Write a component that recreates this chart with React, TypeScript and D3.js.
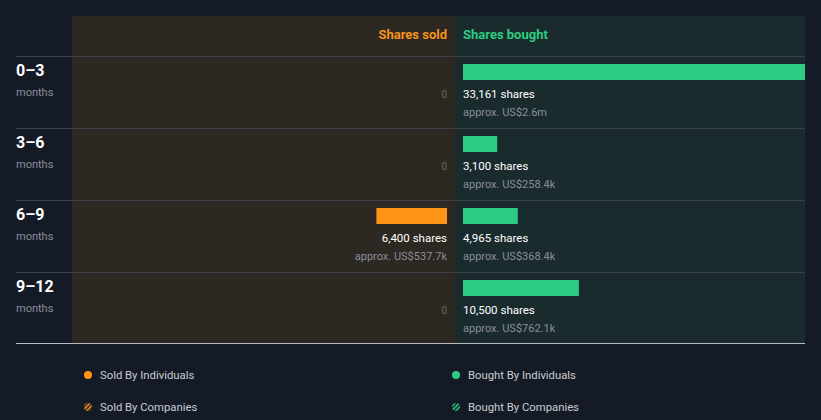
import React from 'react';
import * as d3 from 'd3';

// Insider trading by period
const periods = ['0–3', '3–6', '6–9', '9–12'];
const soldShares = [0, 0, 6400, 0];
const soldValue = ['', '', 'US$537.7k', ''];
const boughtShares = [33161, 3100, 4965, 10500];
const boughtValue = ['US$2.6m', 'US$258.4k', 'US$368.4k', 'US$762.1k'];
const legendItems = [
  { label: 'Sold By Individuals', color: '#ff9419', hatched: false },
  { label: 'Bought By Individuals', color: '#2ecc82', hatched: false },
  { label: 'Sold By Companies', color: '#ff9419', hatched: true },
  { label: 'Bought By Companies', color: '#2ecc82', hatched: true },
];

const W = 821;
const H = 420;
const ORANGE = '#ff9419';
const GREEN = '#2ecc82';

export default function App() {
  const left = 16;
  const right = 805;
  const panelL = 72;
  const mid = 455;
  const top = 16;
  const headerH = 40;
  const rowH = 72;

  const y = d3
    .scaleBand<string>()
    .domain(periods)
    .range([top + headerH, top + headerH + rowH * periods.length]);

  // bar length; clamped so the largest bar hits the panel edge
  const len = d3.scaleLinear().domain([0, 31000]).range([0, right - (mid + 8)]).clamp(true);
  const fmt = d3.format(',');

  const bottom = y.range()[1] - 1;

  return (
    <svg
      width={W}
      height={H}
      style={{ position: 'absolute', left: 0, top: 0, background: '#151b26', fontFamily: 'Roboto, sans-serif' }}
    >
      <defs>
        <pattern id="hatchO" width="3" height="3" patternUnits="userSpaceOnUse" patternTransform="rotate(45)">
          <rect width="1.5" height="3" fill={ORANGE} />
        </pattern>
        <pattern id="hatchG" width="3" height="3" patternUnits="userSpaceOnUse" patternTransform="rotate(45)">
          <rect width="1.5" height="3" fill={GREEN} />
        </pattern>
      </defs>
      <rect x={0} y={0} width={W} height={H} fill="#151b26" />
      <rect x={panelL} y={top} width={mid - panelL} height={bottom - top} fill="#2d2822" />
      <rect x={mid} y={top} width={right - mid} height={bottom - top} fill="#1a2b2e" />

      <text x={mid - 8} y={top + 23} textAnchor="end" fill="#f7931e" fontSize={13} fontWeight={700}>
        Shares sold
      </text>
      <text x={mid + 8} y={top + 23} fill={GREEN} fontSize={13} fontWeight={700}>
        Shares bought
      </text>

      {periods.map((p, i) => {
        const y0 = y(p)!;
        const s = soldShares[i];
        const b = boughtShares[i];
        return (
          <g key={p}>
            <line x1={left} x2={right} y1={y0 + 0.5} y2={y0 + 0.5} stroke="#3d4047" strokeWidth={1} />
            <text x={left} y={y0 + 20} fill="#fff" fontSize={16} fontWeight={700}>
              {p}
            </text>
            <text x={left} y={y0 + 40} fill="#8a8e96" fontSize={11}>
              months
            </text>
            {s > 0 ? (
              <g>
                <rect x={mid - 8 - len(s)} y={y0 + 8} width={len(s)} height={16} fill={ORANGE} />
                <text x={mid - 8} y={y0 + 42} textAnchor="end" fill="#fff" fontSize={11.5}>
                  {fmt(s)} shares
                </text>
                <text x={mid - 8} y={y0 + 60} textAnchor="end" fill="#8a8e96" fontSize={11}>
                  approx. {soldValue[i]}
                </text>
              </g>
            ) : (
              <text x={mid - 8} y={y0 + 42} textAnchor="end" fill="#6b6a68" fontSize={10}>
                0
              </text>
            )}
            <rect x={mid + 8} y={y0 + 8} width={len(b)} height={16} fill={GREEN} />
            <text x={mid + 8} y={y0 + 42} fill="#fff" fontSize={11.5}>
              {fmt(b)} shares
            </text>
            <text x={mid + 8} y={y0 + 60} fill="#8a8e96" fontSize={11}>
              approx. {boughtValue[i]}
            </text>
          </g>
        );
      })}

      <line x1={left} x2={right} y1={bottom + 0.5} y2={bottom + 0.5} stroke="#b8bcc2" strokeWidth={1} />

      {legendItems.map((d, i) => {
        const lx = i % 2 === 0 ? 87 : 455;
        const ly = i < 2 ? 375 : 407;
        return (
          <g key={d.label}>
            <circle
              cx={lx + 1}
              cy={ly}
              r={4}
              fill={d.hatched ? (d.color === ORANGE ? 'url(#hatchO)' : 'url(#hatchG)') : d.color}
            />
            <text x={lx + 13} y={ly + 4} fill="#c9ccd1" fontSize={11.3}>
              {d.label}
            </text>
          </g>
        );
      })}
    </svg>
  );
}
